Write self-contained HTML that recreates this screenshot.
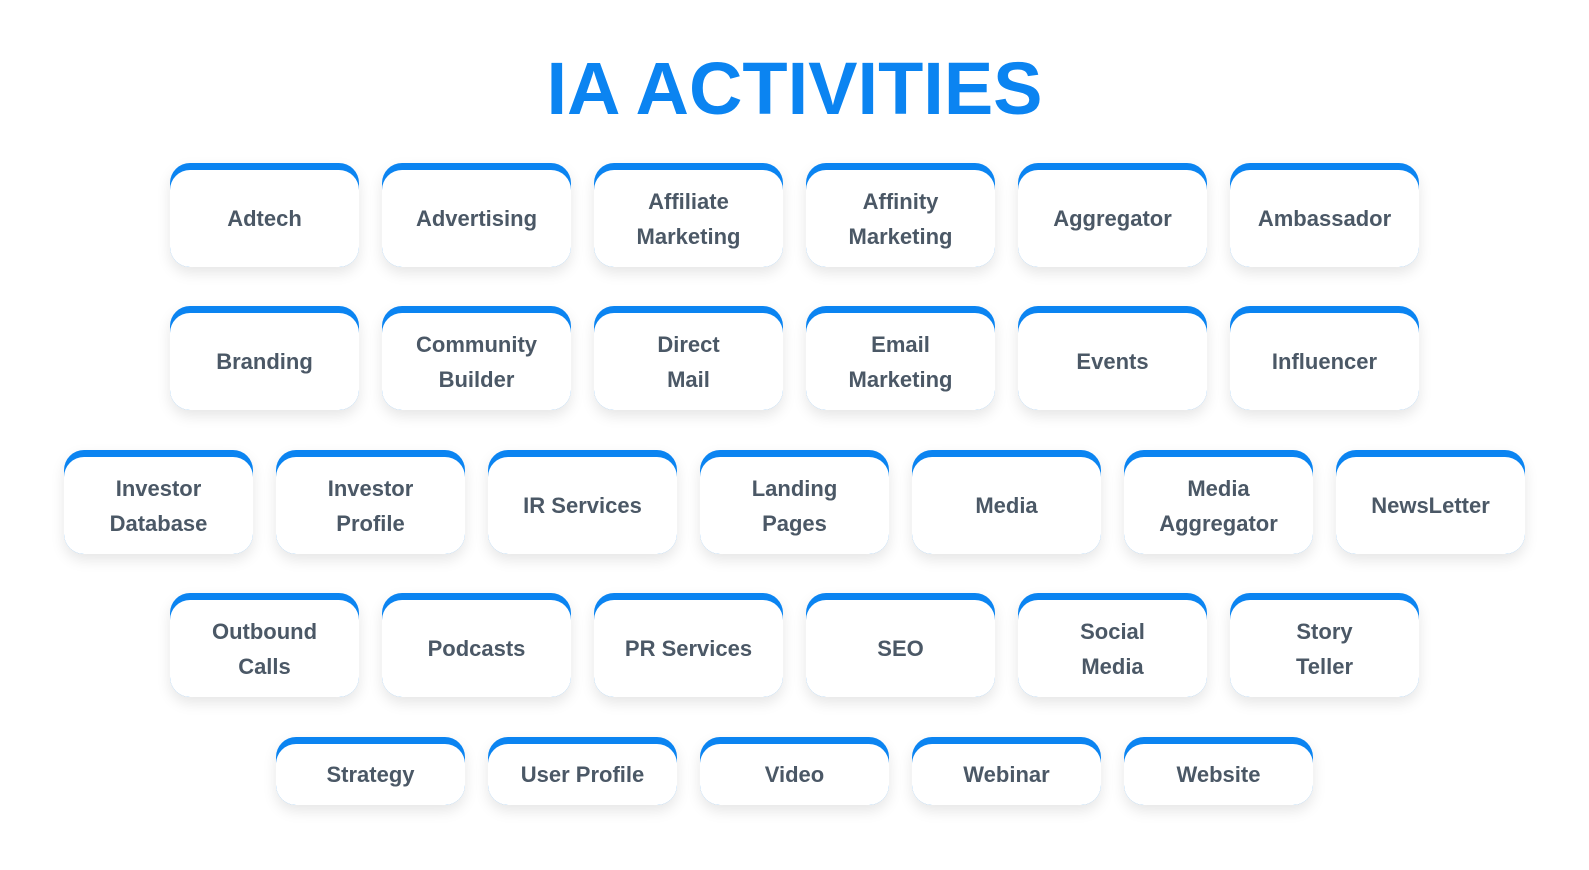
<!DOCTYPE html>
<html><head><style>
body{margin:0;width:1589px;height:870px;background:#fff;position:relative;overflow:hidden;font-family:"Liberation Sans",sans-serif}
h1{position:absolute;left:0;width:1589px;top:46px;margin:0;text-align:center;font-size:74px;font-weight:bold;color:#0b84f1;letter-spacing:0px}
.c{position:absolute;width:189px;height:104px;background:#0b84f1;border-radius:20px;box-shadow:0 6px 14px rgba(0,0,0,0.10)}
.c div{position:absolute;left:0;right:0;top:7px;bottom:0;background:#fff;border-radius:20px;display:flex;align-items:center;justify-content:center;text-align:center;font-size:22px;font-weight:bold;color:#4b5866;line-height:35px}
.s{height:68px}
</style></head><body>
<h1>IA ACTIVITIES</h1>
<div class="c" style="left:170px;top:163px"><div>Adtech</div></div>
<div class="c" style="left:382px;top:163px"><div>Advertising</div></div>
<div class="c" style="left:594px;top:163px"><div>Affiliate<br>Marketing</div></div>
<div class="c" style="left:806px;top:163px"><div>Affinity<br>Marketing</div></div>
<div class="c" style="left:1018px;top:163px"><div>Aggregator</div></div>
<div class="c" style="left:1230px;top:163px"><div>Ambassador</div></div>

<div class="c" style="left:170px;top:306px"><div>Branding</div></div>
<div class="c" style="left:382px;top:306px"><div>Community<br>Builder</div></div>
<div class="c" style="left:594px;top:306px"><div>Direct<br>Mail</div></div>
<div class="c" style="left:806px;top:306px"><div>Email<br>Marketing</div></div>
<div class="c" style="left:1018px;top:306px"><div>Events</div></div>
<div class="c" style="left:1230px;top:306px"><div>Influencer</div></div>

<div class="c" style="left:64px;top:450px"><div>Investor<br>Database</div></div>
<div class="c" style="left:276px;top:450px"><div>Investor<br>Profile</div></div>
<div class="c" style="left:488px;top:450px"><div>IR Services</div></div>
<div class="c" style="left:700px;top:450px"><div>Landing<br>Pages</div></div>
<div class="c" style="left:912px;top:450px"><div>Media</div></div>
<div class="c" style="left:1124px;top:450px"><div>Media<br>Aggregator</div></div>
<div class="c" style="left:1336px;top:450px"><div>NewsLetter</div></div>

<div class="c" style="left:170px;top:593px"><div>Outbound<br>Calls</div></div>
<div class="c" style="left:382px;top:593px"><div>Podcasts</div></div>
<div class="c" style="left:594px;top:593px"><div>PR Services</div></div>
<div class="c" style="left:806px;top:593px"><div>SEO</div></div>
<div class="c" style="left:1018px;top:593px"><div>Social<br>Media</div></div>
<div class="c" style="left:1230px;top:593px"><div>Story<br>Teller</div></div>

<div class="c s" style="left:276px;top:737px"><div>Strategy</div></div>
<div class="c s" style="left:488px;top:737px"><div>User Profile</div></div>
<div class="c s" style="left:700px;top:737px"><div>Video</div></div>
<div class="c s" style="left:912px;top:737px"><div>Webinar</div></div>
<div class="c s" style="left:1124px;top:737px"><div>Website</div></div>
</body></html>
